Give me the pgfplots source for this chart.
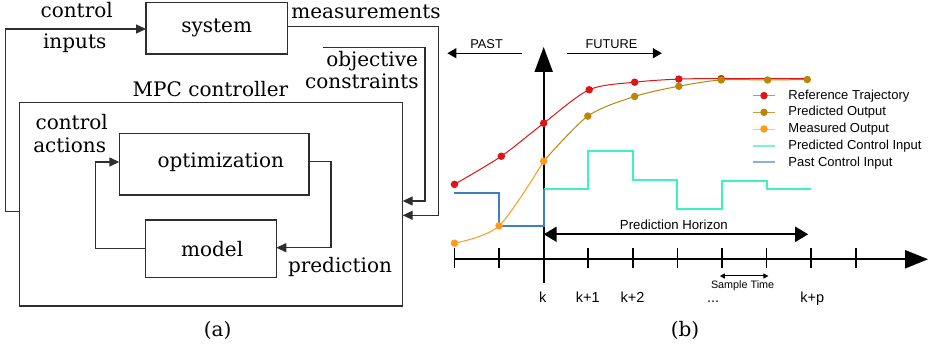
\documentclass[border=0pt]{standalone}
\usepackage{fontspec}
\setmainfont{DejaVu Serif}
\newfontfamily\lsans{Liberation Sans}
\usepackage{pgfplots}
\pgfplotsset{compat=1.18}
\usetikzlibrary{arrows.meta}
\definecolor{cref}{HTML}{DD1515}
\definecolor{cpred}{HTML}{B8860B}
\definecolor{cmeas}{HTML}{FF9A1A}
\definecolor{cpci}{HTML}{3CF2BE}
\definecolor{cpast}{HTML}{3D80C2}
\definecolor{cline}{HTML}{2E2E2E}

\pgfplotstableread{
x y
-2 1.68
-0.95 2.31
0 3.05
1.02 3.80
2.04 3.97
3.03 4.04
3.98 4.05
5.02 4.05
5.91 4.05
}\reftraj
\pgfplotstableread{
x y
0 2.20
0.99 3.21
2.04 3.65
3.03 3.88
3.98 4.02
5.02 4.02
5.91 4.03
}\predout
\pgfplotstableread{
x y
-2 0.36
-1 0.75
0 2.20
}\measout
\pgfplotstableread{
x y
0 1.58
1 2.43
2 1.78
3 1.12
4 1.76
5 1.58
6 1.58
}\predctl
\pgfplotstableread{
x y
-2 1.48
-1 0.75
0 1.58
}\pastctl

\begin{document}
\begin{tikzpicture}
\path[use as bounding box] (0,0) rectangle (934bp,-349bp);
% ---------------- (a) block diagram ----------------
\begin{scope}[x=1bp,y=-1bp,font=\fontsize{20bp}{24bp}\selectfont,line width=1.3bp,draw=cline,
  >={Triangle[length=10bp,width=9bp]}]
  \draw[cline] (146,2.7) rectangle (287.3,54);
  \node at (216.7,27.5) {system};
  \draw[cline] (19.3,102.3) rectangle (402.7,306);
  \node at (210.5,88.8) {MPC controller};
  \draw[cline] (119.3,133.3) rectangle (309,195);
  \node at (220.8,162) {optimization};
  \draw[cline] (145.3,220) rectangle (276.3,277.7);
  \node at (212.2,249) {model};
  \node at (76.7,10.5) {control};
  \node at (74.7,43.3) {inputs};
  \node at (366,11.7) {measurements};
  \node[anchor=east,inner sep=0pt] at (418.6,61) {objective};
  \node[anchor=east,inner sep=0pt] at (419.3,81) {constraints};
  \node at (71.7,122) {control};
  \node at (69.7,145) {actions};
  \node at (340,266.8) {prediction};
  \node at (217.7,330.3) {(a)};
  % control inputs loop
  \draw[cline,->] (19.3,211.7) -- (5.8,211.7) -- (5.8,29) -- (146,29);
  % measurements
  \draw[cline,->] (287.3,26.7) -- (438.7,26.7) -- (438.7,215.3) -- (402.7,215.3);
  % objective constraints
  \draw[cline,->] (322.7,47.7) -- (425,47.7) -- (425,201) -- (402.7,201);
  % optimization -> model
  \draw[cline,->] (309,161.3) -- (331,161.3) -- (331,247.7) -- (276.3,247.7);
  % model -> optimization
  \draw[cline,->] (145.3,248.7) -- (95.7,248.7) -- (95.7,162) -- (119.3,162);
\end{scope}
% ---------------- (b) MPC chart ----------------
\begin{axis}[at={(441.1bp,-344bp)},anchor=south west,
  x=44.6bp,y=44.6bp,xmin=-2.3,xmax=8.6,ymin=-1.9,ymax=5.3,
  hide axis,clip=false,
  legend style={at={(0.6395,0.7995)},anchor=north west,draw=none,fill=none,
    inner sep=0pt,outer sep=0pt,row sep=0pt,
    font=\lsans\fontsize{13bp}{15bp}\selectfont,
    nodes={text height=10.5bp,text depth=3.2bp,inner sep=1.5bp},
    /tikz/every odd column/.append style={column sep=11bp}},
  legend cell align=left,
  legend image code/.code={\draw[mark repeat=2,mark phase=2,#1]
    plot coordinates {(0bp,0bp)(11bp,0bp)(22bp,0bp)};},
]
% axes
\draw[line width=2bp,-{Triangle[length=23bp,width=18bp]}] (axis cs:-2,0) -- (axis cs:8.62,0);
\pgfplotsinvokeforeach{-2,-1,0,1,2,3,4,5,6,7}{
  \draw[line width=1.6bp] (axis cs:#1,-0.2) -- (axis cs:#1,0.25);
}
\draw[line width=2bp,-{Triangle[length=25bp,width=18bp]}] (axis cs:0,-0.53) -- (axis cs:0,4.76);

\addlegendimage{cref,line width=1bp,mark=*,mark size=3.2bp,draw opacity=0.55,mark options={draw opacity=1}}
\addlegendentry{Reference Trajectory}
\addlegendimage{cpred,line width=1bp,mark=*,mark size=3.2bp,draw opacity=0.8,mark options={draw opacity=1}}
\addlegendentry{Predicted Output}
\addlegendimage{cmeas,line width=1bp,mark=*,mark size=3.2bp,draw opacity=0.6,mark options={draw opacity=1}}
\addlegendentry{Measured Output}
\addlegendimage{cpci,line width=2bp,opacity=0.7}
\addlegendentry{Predicted Control Input}
\addlegendimage{cpast,line width=2bp,opacity=0.6}
\addlegendentry{Past Control Input}

\addplot[forget plot,cref,line width=1bp,smooth,mark=*,mark size=3.2bp,mark indices={1,2,3,4,5,6,7}] table {\reftraj};
\addplot[forget plot,cpred,line width=1bp,smooth,mark=*,mark size=3.2bp,mark indices={2,3,4,5,6,7}] table {\predout};
\addplot[forget plot,cmeas,line width=1bp,smooth,mark=*,mark size=3.2bp] table {\measout};
\addplot[forget plot,cpci,line width=2bp,const plot] table {\predctl};
\addplot[forget plot,cpast,line width=2bp,const plot] table {\pastctl};

% annotations
\draw[line width=2bp,{Triangle[length=13bp,width=15bp]}-{Triangle[length=13bp,width=15bp]}] (axis cs:0,0.56) -- (axis cs:5.93,0.56);
\node[anchor=base,font=\lsans\fontsize{13.2bp}{15bp}\selectfont] at (axis cs:2.92,0.657) {Prediction Horizon};
\draw[line width=1bp,{Triangle[length=5bp,width=5bp]}-{Triangle[length=5bp,width=5bp]}] (axis cs:3.95,-0.375) -- (axis cs:5.04,-0.375);
\node[anchor=base,font=\lsans\fontsize{10.8bp}{13bp}\selectfont] at (axis cs:4.46,-0.66) {Sample Time};
\draw[line width=1.3bp,-{Triangle[length=9bp,width=10bp]}] (axis cs:-0.49,4.62) -- (axis cs:-2.16,4.62);
\draw[line width=1.3bp,-{Triangle[length=9bp,width=10bp]}] (axis cs:0.52,4.62) -- (axis cs:2.65,4.62);
\node[anchor=base,font=\lsans\fontsize{12.8bp}{15bp}\selectfont] at (axis cs:-1.28,4.73) {PAST};
\node[anchor=base,font=\lsans\fontsize{12.8bp}{15bp}\selectfont] at (axis cs:1.52,4.73) {FUTURE};
\node[anchor=base,font=\lsans\fontsize{14.5bp}{17bp}\selectfont] at (axis cs:-0.02,-0.973) {k};
\node[anchor=base,font=\lsans\fontsize{14.5bp}{17bp}\selectfont] at (axis cs:0.99,-0.973) {k+1};
\node[anchor=base,font=\lsans\fontsize{14.5bp}{17bp}\selectfont] at (axis cs:1.99,-0.973) {k+2};
\node[anchor=base,font=\lsans\fontsize{14.5bp}{17bp}\selectfont] at (axis cs:3.80,-0.973) {...};
\node[anchor=base,font=\lsans\fontsize{14.5bp}{17bp}\selectfont] at (axis cs:6.02,-0.973) {k+p};
\node[font=\fontsize{20bp}{24bp}\selectfont] at (axis cs:3.17,-1.6) {(b)};
\end{axis}
\end{tikzpicture}
\end{document}
